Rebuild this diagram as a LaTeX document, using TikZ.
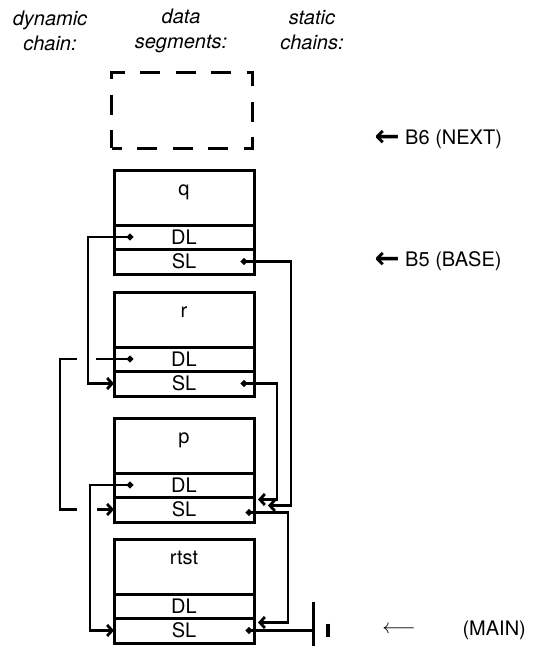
\documentclass[tikz,border=0pt]{standalone}
\usepackage{fontspec}
\setmainfont{TeX Gyre Heros}
\newfontfamily\arrowfont{DejaVu Sans}
\usetikzlibrary{arrows.meta}

\begin{document}
\begin{tikzpicture}[x=1pt, y=-1pt, >={Straight Barb[length=5pt,width=11pt]},
    font=\fontsize{20pt}{25pt}\selectfont,
    heading/.style={align=center, font=\fontsize{20pt}{25pt}\selectfont\itshape},
    segtop/.style={draw, line width=3pt, minimum width=140pt, minimum height=55pt,
        inner sep=0pt, outer sep=0pt, text height=12pt, text depth=16pt},
    segfield/.style={draw, line width=3pt, minimum width=140pt, minimum height=#1,
        inner sep=0pt, outer sep=0pt},
    segfield/.default=24pt,
    link/.style={line width=2.8pt}]

    \useasboundingbox (0,0) rectangle (536,646);

    % 1. Column headings
    \node[heading] (hdyn) at (50,30.5) {dynamic\\chain:};
    \node[heading] (hdata) at (181,30.5) {data\\segments:};
    \node[heading] (hstat) at (312,30.5) {static\\chains:};

    % 2. Next (empty) segment, dashed
    \node[draw, line width=3pt, minimum width=141pt, minimum height=76pt,
        dash pattern=on 20pt off 15.5pt, dash phase=10pt] (next) at (182,110) {};

    % 3. Segment q
    \node[segtop] (q) at (184,197.5) {q};
    \node[segfield] (qDL) at (184,237) {DL};
    \node[segfield=25pt] (qSL) at (184,261.5) {SL};

    % 4. Segment r
    \node[segtop] (r) at (184,319.5) {r};
    \node[segfield] (rDL) at (184,359) {DL};
    \node[segfield=25pt] (rSL) at (184,383.5) {SL};

    % 5. Segment p
    \node[segtop] (p) at (184,445.5) {p};
    \node[segfield] (pDL) at (184,485) {DL};
    \node[segfield=25pt] (pSL) at (184,509.5) {SL};

    % 6. Segment rtst
    \node[segtop] (rtst) at (184,566.5) {rtst};
    \node[segfield] (rtstDL) at (184,606) {DL};
    \node[segfield=25pt] (rtstSL) at (184,630.5) {SL};

    % 7. Dynamic chain (gaps where lines cross)
    \draw[link, {Circle[length=6pt]}->] ([xshift=19pt]qDL.west) -- ++(-45,0) |- (rSL.west);
    \draw[link, {Circle[length=6pt]}-] ([xshift=19pt]rDL.west) -- ([xshift=-18pt]rDL.west);
    \draw[link] ([xshift=-37pt]rDL.west) -- ([xshift=-54pt]rDL.west) |- ([xshift=-37pt]pSL.west);
    \draw[link, ->] ([xshift=-17pt]pSL.west) -- (pSL.west);
    \draw[link, {Circle[length=6pt]}->] ([xshift=19pt]pDL.west) -- ++(-43,0) |- (rtstSL.west);

    % 8. Static chains
    \draw[link, {Circle[length=6pt]}->] ([xshift=-13pt]qSL.east) -- ++(50,0) |- ([xshift=14pt,yshift=4pt]pSL.east);
    \draw[link, {Circle[length=6pt]}->] ([xshift=-13pt]rSL.east) -- ++(36,0) |- ([xshift=4pt,yshift=10pt]pSL.east);
    \draw[link, {Circle[length=6pt]}->] ([xshift=-8pt,yshift=-3pt]pSL.east) -- ++(42,0) |- ([xshift=4pt,yshift=8pt]rtstSL.east);

    % 9. End of static chain
    \draw[link, {Circle[length=6pt]}-] ([xshift=-8pt]rtstSL.east) -- ++(67,0) coordinate (gnd);
    \draw[line width=3pt] ([yshift=29pt]gnd) -- ([yshift=-16pt]gnd);
    \draw[line width=3.4pt] ([xshift=15pt,yshift=7pt]gnd) -- ([xshift=15pt,yshift=-6pt]gnd);

    % 10. Registers
    \node[anchor=west] (b6) at (371,139) {\raisebox{-2.5pt}{\arrowfont\bfseries\fontsize{30pt}{25pt}\selectfont ←} B6 (NEXT)};
    \node[anchor=west] (b5) at (371,261) {\raisebox{-2.5pt}{\arrowfont\bfseries\fontsize{30pt}{25pt}\selectfont ←} B5 (BASE)};
    \node (mainarrow) at (399,630) {$\longleftarrow$};
    \node[anchor=west] (main) at (459,630) {(MAIN)};

\end{tikzpicture}
\end{document}
